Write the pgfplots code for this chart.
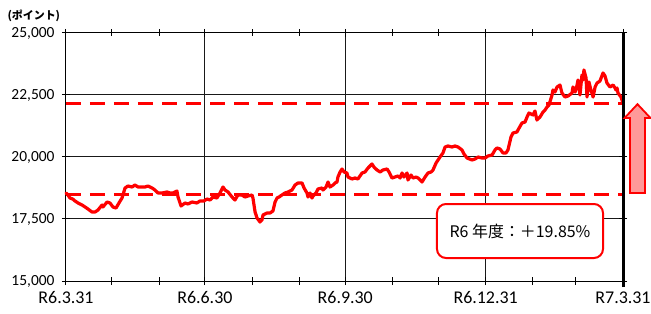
\documentclass[border=0pt]{standalone}
\usepackage{pgfplots}
\pgfplotsset{compat=1.18}
\usepackage{pgfplotstable}
\usepackage{fontspec}
\setmainfont{Carlito}
\newfontfamily\jp{Noto Sans CJK JP}
\definecolor{pinkfill}{HTML}{FF9999}
\pgfplotstableread{
d v
0 18548
1.3 18468
2.6 18347
4.4 18306
5.9 18226
7.9 18145
10.5 18064
12.5 17984
14.4 17903
17.0 17782
19.0 17782
21.0 17863
23.6 18064
24.2 17984
26.9 18185
28.8 18145
30.8 17984
32.8 17943
34.7 18145
36.7 18347
38.7 18750
40.6 18830
43.3 18790
45.2 18871
47.2 18790
49.8 18790
51.8 18790
53.7 18830
56.4 18750
58.3 18669
60.3 18548
62.9 18548
66.2 18588
68.2 18548
70.1 18548
72.7 18629
73.4 18387
75.4 18024
78.0 18145
79.9 18105
82.6 18185
85.8 18145
87.8 18226
90.4 18226
92.4 18306
94.4 18266
96.3 18387
98.9 18347
100.9 18548
102.9 18790
104.2 18669
106.2 18588
108.8 18387
110.7 18266
112.7 18468
115.3 18468
117.3 18387
119.3 18427
121.9 18468
122.5 18347
123.9 17782
125.2 17540
127.1 17379
128.4 17460
129.1 17661
131.7 17742
133.7 17742
135.6 17822
137.0 18185
138.3 18347
139.6 18387
141.5 18468
143.5 18548
145.5 18588
148.1 18669
150.1 18871
152.0 18951
154.7 18951
156.0 18750
157.9 18548
158.6 18387
159.9 18548
161.2 18347
161.9 18427
163.8 18548
165.1 18709
167.8 18750
168.4 18669
170.4 18790
171.7 18992
173.0 18790
175.0 18871
176.3 18951
177.6 18992
178.2 19193
179.6 19395
180.9 19516
182.2 19395
184.1 19355
184.8 19193
187.4 19113
189.4 19153
191.3 19113
194.0 19355
195.9 19395
197.9 19556
200.5 19717
201.8 19596
203.8 19476
205.8 19395
207.7 19476
210.4 19516
211.7 19395
213.6 19153
215.6 19193
217.6 19234
218.9 19153
220.2 19355
221.5 19193
223.5 19355
224.1 19072
226.1 19274
227.4 19153
229.4 19193
230.7 19153
233.3 18992
235.3 19193
237.2 19355
239.2 19395
240.5 19476
242.5 19758
243.8 19879
245.1 20000
247.0 20161
248.4 20403
250.3 20443
252.9 20403
254.9 20443
256.9 20403
259.5 20282
260.8 20121
262.8 19959
266.0 19879
268.0 19919
270.0 20000
272.6 19959
274.6 19959
276.5 20040
279.2 20080
281.1 20282
282.4 20363
284.4 20322
286.4 20161
288.3 20161
289.6 20282
291.6 20806
292.9 20967
295.5 21008
296.9 21169
298.8 21371
300.8 21411
302.1 21612
303.4 21774
306.0 21693
307.3 21854
308.6 21492
310.6 21612
312.6 21814
313.9 21895
315.2 22016
316.5 22096
318.5 22500
319.1 22701
320.4 22620
321.8 22822
323.7 22903
325.0 22580
327.0 22419
329.0 22459
331.6 22580
332.2 22822
333.6 22620
334.9 22903
335.5 23104
336.8 22500
338.1 23306
338.8 23104
339.4 23508
340.8 23185
341.4 22419
342.7 23024
344.0 22701
345.4 22419
346.7 22822
348.0 22983
349.9 23064
351.9 23387
353.2 23266
354.5 22983
356.5 22822
358.5 22903
359.8 22782
360.4 22701
361.1 22782
361.7 22580
363.7 22419
365.0 22172
}\index
\begin{document}
\begin{tikzpicture}
\path[use as bounding box] (-66bp,-33bp) rectangle (585bp,281bp);
\begin{axis}[
  scale only axis, width=557bp, height=248bp,
  xmin=0, xmax=365, ymin=15000, ymax=25000,
  scaled y ticks=false,
  xtick={0,91,183,275,365},
  xticklabels={R6.3.31,R6.6.30,R6.9.30,R6.12.31,R7.3.31},
  minor xtick={30,61,122,153,214,244,306,334},
  ytick={15000,17500,20000,22500,25000},
  xmajorgrids, ymajorgrids,
  grid style={black!90, line width=1bp},
  axis line style={black, line width=1bp},
  tick style={black, line width=1bp},
  tick align=center,
  major tick length=8bp, minor tick length=7bp,
  yticklabel style={font=\fontsize{15.5}{16}\selectfont, xshift=-4bp,
     /pgf/number format/.cd, fixed, precision=0, 1000 sep={,}, assume math mode=true},
  xticklabel style={font=\fontsize{18}{20}\selectfont, yshift=-3bp},
  clip=false,
]
\addplot[red, line width=3bp, dash pattern=on 15bp off 9bp] coordinates {(0,18500) (365,18500)};
\addplot[red, line width=3bp, dash pattern=on 15bp off 9bp] coordinates {(0,22172) (365,22172)};
\addplot[red, line width=3.2bp, line join=round, line cap=round] table[x=d, y=v] {\index};
\draw[black, line width=3bp] ([yshift=-6bp]rel axis cs:1,0) -- ([yshift=0.5bp]rel axis cs:1,1);
\draw[red, line width=1.8bp, fill=pinkfill]
  (axis cs:369.6,18548) -- (axis cs:379.4,18548) -- (axis cs:379.4,21572)
  -- (axis cs:383.0,21572) -- (axis cs:374.5,22130) -- (axis cs:366.0,21572)
  -- (axis cs:369.6,21572) -- cycle;
\node[draw=red, line width=2bp, fill=white, rounded corners=9bp,
      minimum width=166bp, minimum height=54bp, inner sep=0pt,
      font=\jp\fontsize{16}{17}\selectfont]
  at (axis cs:297.5,17016) {R6 年度：＋19.85\%};
\end{axis}
\node[anchor=west, font=\jp\bfseries\fontsize{11}{12}\selectfont] at (-62bp,265bp) {(ポイント)};
\end{tikzpicture}
\end{document}
